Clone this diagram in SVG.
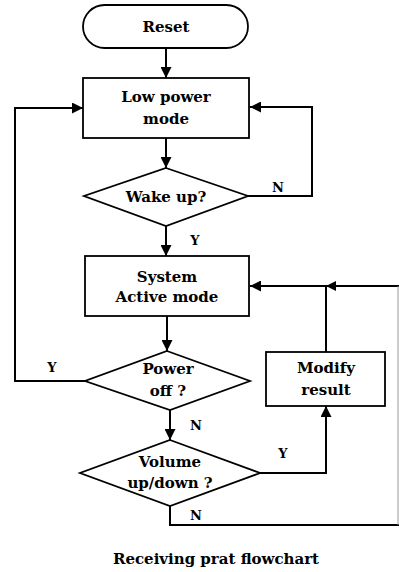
<svg xmlns="http://www.w3.org/2000/svg" width="399" height="572" viewBox="0 0 399 572">
<defs>
<marker id="ah" viewBox="0 0 10 10" refX="10" refY="5" markerWidth="10" markerHeight="10" markerUnits="userSpaceOnUse" orient="auto">
<path d="M0,0 L10,5 L0,10 z" fill="#000"/>
</marker>
<marker id="ahb" viewBox="0 0 10 10" refX="10" refY="5" markerWidth="12" markerHeight="11" markerUnits="userSpaceOnUse" orient="auto">
<path d="M0,0 L10,5 L0,10 z" fill="#000"/>
</marker>
</defs>
<style>
.shape{fill:#fff;stroke:#000;stroke-width:1.8}
.t{font-family:"DejaVu Serif","Liberation Serif",serif;font-weight:bold;font-size:15px;fill:#000;text-anchor:middle}
.lbl{font-family:"DejaVu Serif","Liberation Serif",serif;font-weight:bold;font-size:13px;fill:#000;text-anchor:middle}
.c{fill:none;stroke:#000;stroke-width:2}
</style>
<rect width="399" height="572" fill="#fff"/>
<g id="connectors">
<line class="c" x1="166" y1="48" x2="166" y2="78" marker-end="url(#ahb)"/>
<line class="c" x1="166" y1="138" x2="166" y2="168" marker-end="url(#ahb)"/>
<polyline class="c" points="248,196 312,196 312,107 250,107" marker-end="url(#ahb)"/>
<line class="c" x1="166" y1="226" x2="166" y2="256" marker-end="url(#ahb)"/>
<line class="c" x1="167" y1="316" x2="167" y2="351" marker-end="url(#ahb)"/>
<polyline class="c" points="85,381 15,381 15,108 83,108" marker-end="url(#ahb)"/>
<line class="c" x1="170" y1="410" x2="170" y2="440" marker-end="url(#ahb)"/>
<polyline class="c" points="260,473 326,473 326,406" marker-end="url(#ahb)"/>
<line class="c" x1="326" y1="352" x2="326" y2="286"/>
<line class="c" x1="399" y1="286" x2="326" y2="286" marker-end="url(#ah)"/>
<line class="c" x1="326" y1="286" x2="250" y2="286" marker-end="url(#ahb)"/>
<polyline class="c" points="170,506 170,525 399,525"/>
<line x1="398" y1="286" x2="398" y2="525" stroke="#999" stroke-width="1"/>
<text class="lbl" x="278" y="192">N</text>
<text class="lbl" x="195" y="245">Y</text>
<text class="lbl" x="52" y="372">Y</text>
<text class="lbl" x="196" y="430">N</text>
<text class="lbl" x="283" y="458">Y</text>
<text class="lbl" x="196" y="520">N</text>
</g>
<g id="reset">
<rect class="shape" x="83" y="5" width="165" height="43" rx="21.5" ry="21.5"/>
<text class="t" x="166" y="32">Reset</text>
</g>
<g id="lowpower">
<rect class="shape" x="83" y="78" width="166" height="60"/>
<text class="t" x="166" y="102">Low power</text>
<text class="t" x="166" y="124">mode</text>
</g>
<g id="wakeup">
<polygon class="shape" points="166,168 248,196 166,226 84,196"/>
<text class="t" x="166" y="202">Wake up?</text>
</g>
<g id="active">
<rect class="shape" x="85" y="256" width="164" height="60"/>
<text class="t" x="167" y="282">System</text>
<text class="t" x="167" y="302">Active mode</text>
</g>
<g id="poweroff">
<polygon class="shape" points="167,351 250,381 170,410 85,381"/>
<text class="t" x="168" y="374">Power</text>
<text class="t" x="168" y="396">off ?</text>
</g>
<g id="volume">
<polygon class="shape" points="170,440 260,473 170,506 80,473"/>
<text class="t" x="170" y="467">Volume</text>
<text class="t" x="170" y="488">up/down ?</text>
</g>
<g id="modify">
<rect class="shape" x="266" y="352" width="119" height="54"/>
<text class="t" x="326" y="373">Modify</text>
<text class="t" x="326" y="395">result</text>
</g>
<text class="t" x="216" y="564">Receiving prat flowchart</text>
</svg>
